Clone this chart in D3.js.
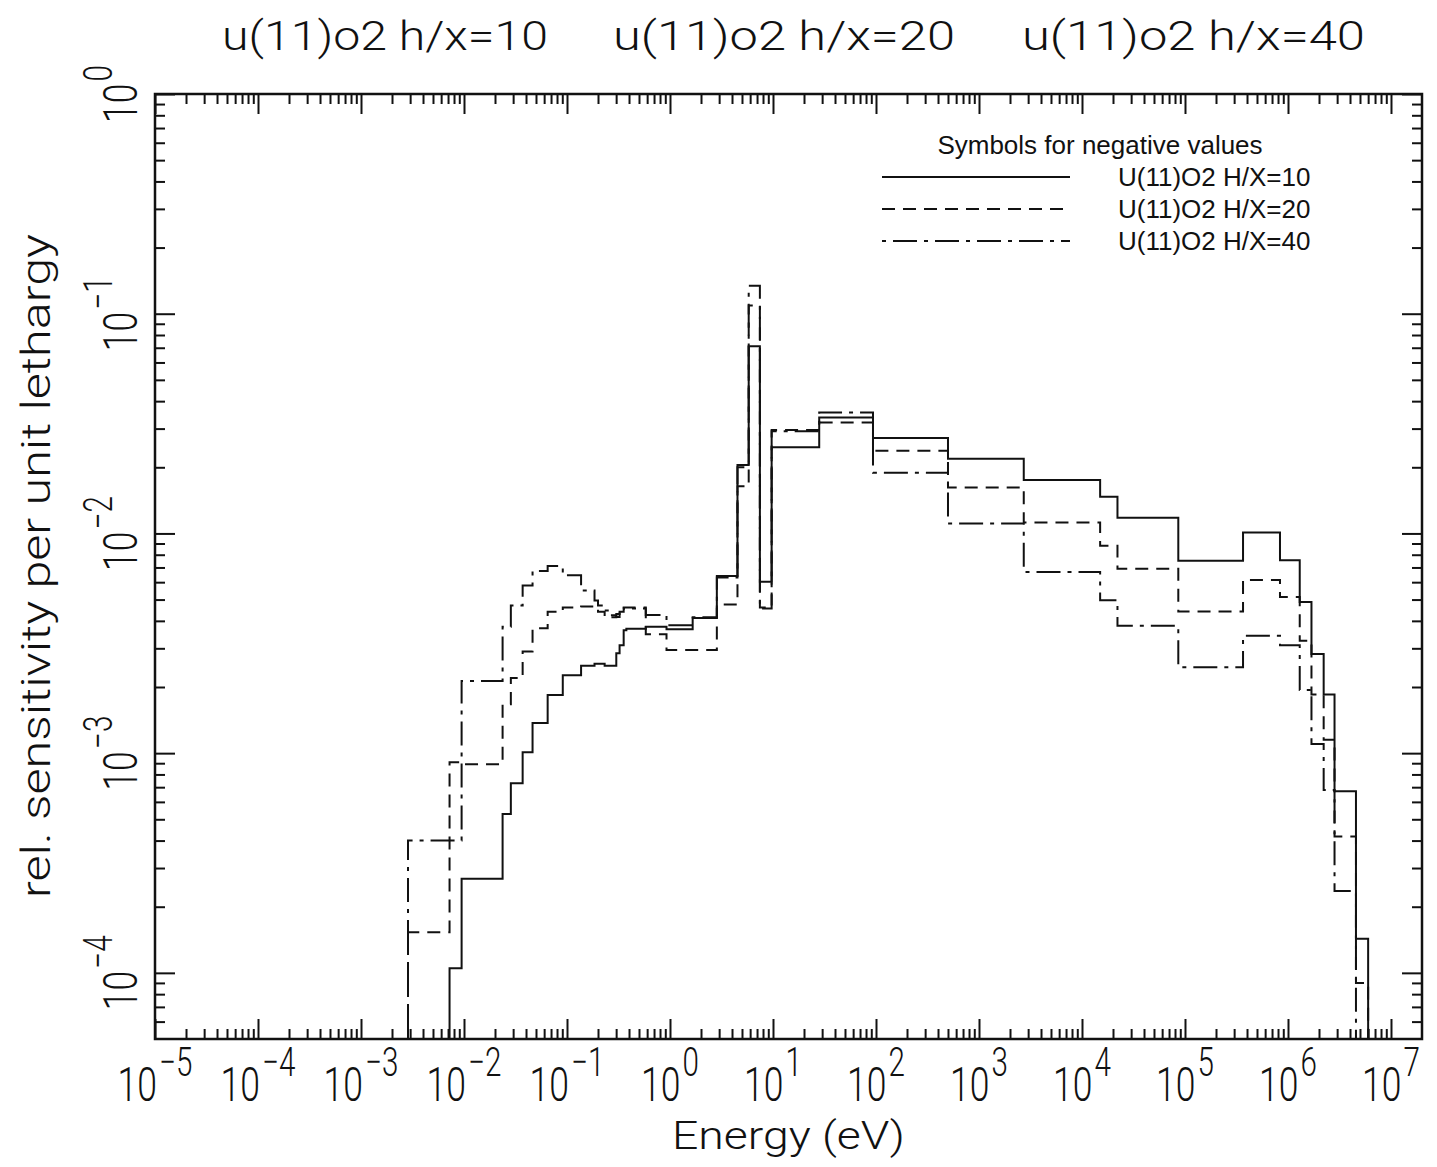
<!DOCTYPE html>
<html lang="en">
<head>
<meta charset="UTF-8">
<title>rel. sensitivity per unit lethargy</title>
<script src="https://d3js.org/d3.v7.min.js"></script>
<style>
  body { margin: 0; background: #fff; }
  svg { display: block; }
  .lbl { font-family: Roboto, "DejaVu Sans", sans-serif; font-weight: 300; fill: #111; }
  .leg { font-family: "Liberation Sans", Arial, sans-serif; fill: #111; }
</style>
</head>
<body>
<script>
// group boundaries (eV)
const energyBounds = [2.86e-3, 7.24e-3, 9.48e-3, 2.37e-2, 2.85e-2, 3.71e-2, 4.63e-2, 6.49e-2,
  9.1e-2, 0.137, 0.185, 0.20, 0.232, 0.259, 0.301, 0.324, 0.355, 0.377, 0.582, 0.925,
  1.66, 2.85, 4.52, 5.81, 7.46, 9.7, 28.1, 93.5, 500, 2720, 1.5e4, 2.21e4, 8.61e4,
  3.66e5, 8.36e5, 1.3e6, 1.69e6, 2.22e6, 2.83e6, 4.57e6, 6.0e6];

// one value per group, null = no line
const sensHX10 = [null, 1.05e-4, 2.68e-4, 5.28e-4, 7.3e-4, 1.01e-3, 1.37e-3, 1.84e-3,
  2.26e-3, 2.5e-3, 2.55e-3, 2.55e-3, 2.5e-3, 2.5e-3, 2.85e-3, 3.1e-3, 3.63e-3, 3.68e-3, 3.76e-3, 3.66e-3,
  4.12e-3, 6.4e-3, 2.05e-2, 7.11e-2, 6.03e-3, 2.47e-2, 3.37e-2, 2.72e-2, 2.19e-2, 1.75e-2, 1.47e-2, 1.18e-2,
  7.52e-3, 1.01e-2, 7.55e-3, 4.88e-3, 2.83e-3, 1.85e-3, 6.7e-4, 1.43e-4];
const sensHX20 = [1.53e-4, 9.1e-4, 8.9e-4, 1.67e-3, 2.2e-3, 2.9e-3, 3.7e-3, 4.4e-3,
  4.6e-3, 4.65e-3, 4.55e-3, 4.4e-3, 4.2e-3, 4.15e-3, 4.3e-3, 4.55e-3, 4.6e-3, 4.6e-3, 3.48e-3, 2.95e-3,
  2.95e-3, 4.75e-3, 1.64e-2, 0.109, 4.6e-3, 2.96e-2, 3.2e-2, 2.38e-2, 1.62e-2, 1.12e-2, 8.8e-3, 6.9e-3,
  4.41e-3, 6.14e-3, 5.13e-3, 3.25e-3, 1.85e-3, 1.15e-3, 4.17e-4, 9.0e-5];
const sensHX40 = [4.0e-4, 4.0e-4, 2.13e-3, 3.76e-3, 4.7e-3, 5.8e-3, 6.75e-3, 7.1e-3,
  6.45e-3, 5.5e-3, 4.95e-3, 4.7e-3, 4.46e-3, 4.24e-3, 4.17e-3, 4.4e-3, 4.55e-3, 4.55e-3, 4.25e-3, 3.82e-3,
  4.15e-3, 6.3e-3, 2.0e-2, 0.134, 4.55e-3, 2.92e-2, 3.55e-2, 1.89e-2, 1.11e-2, 6.67e-3, 4.97e-3, 3.8e-3,
  2.46e-3, 3.42e-3, 3.1e-3, 1.94e-3, 1.1e-3, 6.8e-4, 2.36e-4, null];

const seriesNames = ["U(11)O2 H/X=10", "U(11)O2 H/X=20", "U(11)O2 H/X=40"];
const panelTitles = ["u(11)o2 h/x=10", "u(11)o2 h/x=20", "u(11)o2 h/x=40"];
const xDecades = d3.range(-5, 8);
const yDecades = d3.range(-4, 1);

const w = 1437, h = 1167;
const plotL = 155, plotR = 1422, plotT = 94, plotB = 1039;
const yMin = 5e-5;

const svg = d3.select("body").append("svg").attr("width", w).attr("height", h);

const x = d3.scaleLog().domain([1e-5, 2e7]).range([plotL, plotR]);
const y = d3.scaleLog().domain([yMin, 1]).range([plotB, plotT]);

// tick values
const xMajor = xDecades.map(k => Math.pow(10, k));
const xMinor = [];
d3.range(-5, 8).forEach(k => d3.range(2, 10).forEach(m => {
  const v = m * Math.pow(10, k);
  if (v < 2e7 * 0.999) xMinor.push(v);
}));
const yMajor = yDecades.map(k => Math.pow(10, k));
const yMinor = [];
d3.range(-5, 0).forEach(k => d3.range(2, 10).forEach(m => {
  const v = m * Math.pow(10, k);
  if (v > yMin * 1.001 && v < 1) yMinor.push(v);
}));

function tickAxis(axisFn, scale, vals, len, transform) {
  const g = svg.append("g").attr("transform", transform)
    .call(axisFn(scale).tickValues(vals).tickSize(-len).tickFormat(""));
  g.select(".domain").remove();
  g.selectAll(".tick line").attr("stroke", "#111").attr("stroke-width", 2);
}
tickAxis(d3.axisBottom, x, xMajor, 20, `translate(0,${plotB})`);
tickAxis(d3.axisBottom, x, xMinor, 10, `translate(0,${plotB})`);
tickAxis(d3.axisTop, x, xMajor, 20, `translate(0,${plotT})`);
tickAxis(d3.axisTop, x, xMinor, 10, `translate(0,${plotT})`);
tickAxis(d3.axisLeft, y, yMajor, 20, `translate(${plotL},0)`);
tickAxis(d3.axisLeft, y, yMinor, 10, `translate(${plotL},0)`);
tickAxis(d3.axisRight, y, yMajor, 20, `translate(${plotR},0)`);
tickAxis(d3.axisRight, y, yMinor, 10, `translate(${plotR},0)`);

svg.append("rect")
  .attr("x", plotL).attr("y", plotT)
  .attr("width", plotR - plotL).attr("height", plotB - plotT)
  .attr("fill", "none").attr("stroke", "#111").attr("stroke-width", 2.5);

// power-of-ten labels
function powLabel(g, k) {
  const t = g.append("text").attr("class", "lbl").attr("text-anchor", "middle")
    .attr("font-size", 48);
  t.append("tspan").text("10");
  t.append("tspan").attr("font-size", 40).attr("dx", 3).attr("dy", -25)
    .text(k < 0 ? "\u2212" + (-k) : String(k));
}
xDecades.forEach(k => {
  const g = svg.append("g")
    .attr("transform", `translate(${x(Math.pow(10, k))},1101) scale(0.74,1)`);
  powLabel(g, k);
});
yDecades.forEach(k => {
  const g = svg.append("g")
    .attr("transform", `translate(137,${y(Math.pow(10, k))}) rotate(-90) scale(0.74,1)`);
  powLabel(g, k);
});

// axis titles
svg.append("text").attr("class", "lbl")
  .attr("x", 672).attr("y", 1149)
  .attr("font-size", 38)
  .attr("textLength", 233).attr("lengthAdjust", "spacingAndGlyphs")
  .text("Energy (eV)");
svg.append("text").attr("class", "lbl")
  .attr("transform", "translate(50,898) rotate(-90)")
  .attr("font-size", 40)
  .attr("textLength", 664).attr("lengthAdjust", "spacingAndGlyphs")
  .text("rel. sensitivity per unit lethargy");

// titles on top
const titleX = [222, 613, 1022];
const titleW = [326, 342, 343];
panelTitles.forEach((t, i) => {
  svg.append("text").attr("class", "lbl")
    .attr("x", titleX[i]).attr("y", 50)
    .attr("font-size", 40)
    .attr("textLength", titleW[i]).attr("lengthAdjust", "spacingAndGlyphs")
    .text(t);
});

// step lines
const dashes = [null, "13,8", "4,7,24,7"];
const seriesVals = [sensHX10, sensHX20, sensHX40];

function stepPoints(vals) {
  const idx = vals.map((v, i) => v == null ? -1 : i).filter(i => i >= 0);
  const first = idx[0], last = idx[idx.length - 1];
  const pts = [[energyBounds[first], yMin]];
  for (let i = first; i <= last; i++) {
    pts.push([energyBounds[i], vals[i]]);
    pts.push([energyBounds[i + 1], vals[i]]);
  }
  pts.push([energyBounds[last + 1], yMin]);
  return pts;
}

const line = d3.line().x(d => x(d[0])).y(d => y(d[1]));

seriesVals.forEach((vals, i) => {
  svg.append("path")
    .datum(stepPoints(vals))
    .attr("d", line)
    .attr("fill", "none")
    .attr("stroke", "#111")
    .attr("stroke-width", 2)
    .attr("stroke-dasharray", dashes[i]);
});

// legend
svg.append("text").attr("class", "leg")
  .attr("x", 1100).attr("y", 154)
  .attr("text-anchor", "middle").attr("font-size", 26)
  .text("Symbols for negative values");
const legY = [177, 209, 241];
seriesNames.forEach((n, i) => {
  svg.append("line")
    .attr("x1", 882).attr("x2", 1070)
    .attr("y1", legY[i]).attr("y2", legY[i])
    .attr("stroke", "#111").attr("stroke-width", 2)
    .attr("stroke-dasharray", dashes[i]);
  svg.append("text").attr("class", "leg")
    .attr("x", 1118).attr("y", legY[i] + 9)
    .attr("font-size", 26)
    .text(n);
});
</script>
</body>
</html>
